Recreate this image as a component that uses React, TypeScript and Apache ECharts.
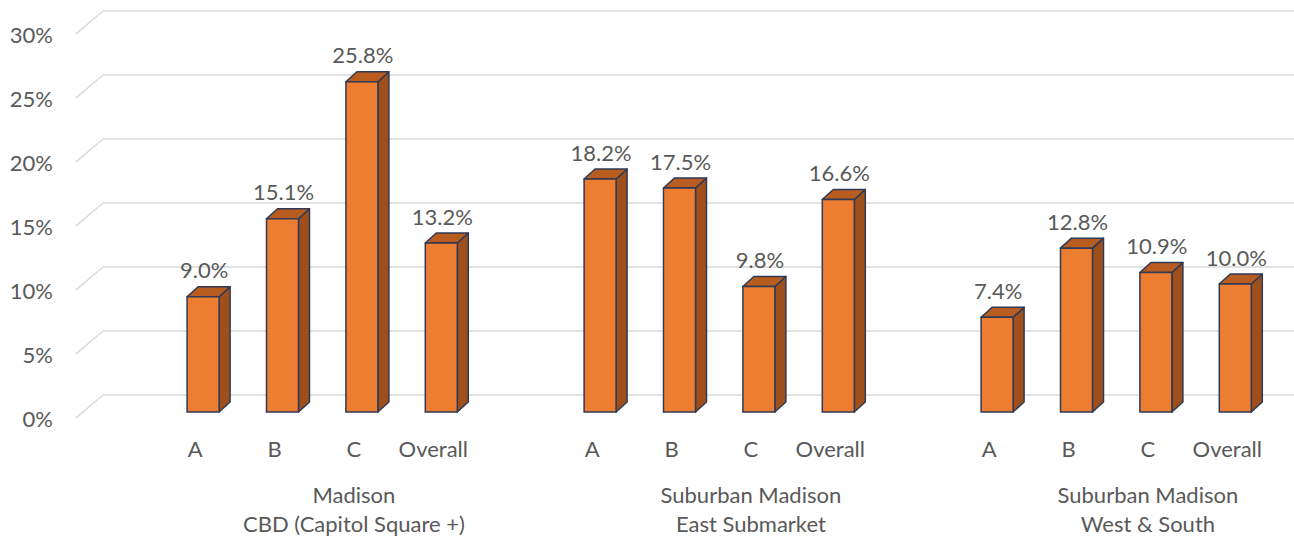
import React, { useEffect, useRef } from "react";
import * as echarts from "echarts";

const groupNames = [
  "Madison\nCBD (Capitol Square +)",
  "Suburban Madison\nEast Submarket",
  "Suburban Madison\nWest & South",
];
const classes = ["A", "B", "C", "Overall"];
const madisonCBD = [9.0, 15.1, 25.8, 13.2];
const eastSubmarket = [18.2, 17.5, 9.8, 16.6];
const westSouth = [7.4, 12.8, 10.9, 10.0];
const yTicks = [0, 5, 10, 15, 20, 25, 30];

const groupValues = [madisonCBD, eastSubmarket, westSouth];

// category slots: a blank slot before each group
const categories: string[] = [];
const groupLabelSlots: string[] = [];
const barData: [number, number][] = [];
groupValues.forEach((vals, g) => {
  categories.push("");
  groupLabelSlots.push("");
  vals.forEach((v, i) => {
    const idx = categories.length;
    categories.push(classes[i]);
    groupLabelSlots.push(i === 2 ? groupNames[g] : "");
    barData.push([idx, v]);
  });
});

const TEXT = "#595959";
const FONT = "Lato";
const FS = 22;

export default function App() {
  const ref = useRef<HTMLDivElement>(null);
  useEffect(() => {
    document.body.style.margin = "0";
    const chart = echarts.init(ref.current!, null, { renderer: "svg" });
    const DX = 27, DY = 23; // wall depth
    const BOX = 8, BOY = 6; // bar front offset from front plane
    const BW = 32, BDX = 11, BDY = 10;
    chart.setOption({
      animation: false,
      grid: { left: 76, right: 27, top: 34, bottom: 121 },
      xAxis: [
        {
          type: "category",
          data: categories,
          axisLine: { show: false },
          axisTick: { show: false },
          axisLabel: { interval: 0, margin: 19, color: TEXT, fontFamily: FONT, fontSize: FS },
        },
        {
          type: "category",
          position: "bottom",
          data: groupLabelSlots,
          axisLine: { show: false },
          axisTick: { show: false },
          axisLabel: { interval: 0, margin: 62, color: TEXT, fontFamily: FONT, fontSize: FS, lineHeight: 29 },
        },
      ],
      yAxis: {
        type: "value",
        min: 0,
        max: 30,
        interval: 5,
        axisLine: { show: false },
        axisTick: { show: false },
        splitLine: { show: false },
        axisLabel: { margin: 23, color: TEXT, fontFamily: FONT, fontSize: FS, formatter: "{value}%" },
      },
      series: [
        {
          type: "custom",
          z: 1,
          silent: true,
          data: yTicks.map((t) => [0, t]),
          renderItem: (params: any, api: any) => {
            const cs = params.coordSys;
            const y = api.coord([0, api.value(1)])[1];
            const x0 = cs.x;
            return {
              type: "polyline",
              shape: { points: [[x0, y], [x0 + DX, y - DY], [x0 + cs.width + DX, y - DY]] },
              style: { stroke: "#D9D9D9", lineWidth: 1.5, fill: null },
            };
          },
        },
        {
          type: "custom",
          z: 2,
          data: barData,
          renderItem: (params: any, api: any) => {
            const top = api.coord([api.value(0), api.value(1)]);
            const base = api.coord([api.value(0), 0]);
            const cx = top[0] + BOX;
            const yt = top[1] - BOY;
            const yb = base[1] - BOY;
            const l = cx - BW / 2, r = cx + BW / 2;
            const stroke = "#2E3A56";
            return {
              type: "group",
              children: [
                {
                  type: "polygon",
                  shape: { points: [[r, yb], [r, yt], [r + BDX, yt - BDY], [r + BDX, yb - BDY]] },
                  style: { fill: "#9E4F1B", stroke, lineWidth: 1.5, lineJoin: "round" },
                },
                {
                  type: "polygon",
                  shape: { points: [[l, yt], [r, yt], [r + BDX, yt - BDY], [l + BDX, yt - BDY]] },
                  style: { fill: "#B85C20", stroke, lineWidth: 1.5, lineJoin: "round" },
                },
                {
                  type: "rect",
                  shape: { x: l, y: yt, width: BW, height: yb - yt },
                  style: { fill: "#ED7D31", stroke, lineWidth: 1.5 },
                },
                {
                  type: "text",
                  x: cx + 1,
                  y: yt - 27,
                  style: {
                    text: api.value(1).toFixed(1) + "%",
                    fill: TEXT,
                    font: `${FS}px ${FONT}`,
                    align: "center",
                    verticalAlign: "middle",
                  },
                },
              ],
            };
          },
        },
      ],
    });
    return () => chart.dispose();
  }, []);
  return <div ref={ref} style={{ width: 1294, height: 539 }} />;
}
